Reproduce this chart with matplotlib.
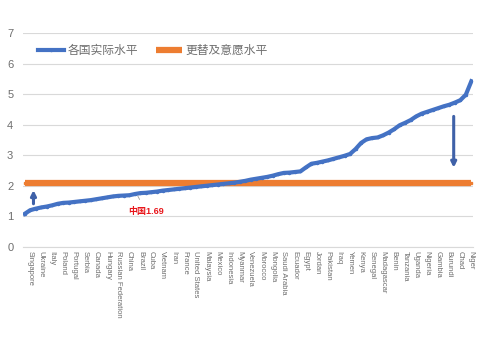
import matplotlib
matplotlib.use("Agg")
import matplotlib.pyplot as plt
import numpy as np

plt.rcParams["font.family"] = ["Liberation Sans", "Noto Sans CJK SC", "DejaVu Sans"]

countries = [
    "Korea, Rep.", "Singapore", "Hong Kong SAR", "Ukraine", "Spain", "Italy",
    "Japan", "Poland", "Greece", "Portugal", "Croatia", "Serbia", "Germany",
    "Canada", "Thailand", "Hungary", "Switzerland", "Russian Federation",
    "Chile", "China", "Netherlands", "Brazil", "Belgium", "Cuba", "Denmark",
    "Vietnam", "United Kingdom", "Iran", "Costa Rica", "France", "Colombia",
    "United States", "Turkey", "Malaysia", "Bangladesh", "Mexico", "Argentina",
    "Indonesia", "Peru", "Myanmar", "India", "Venezuela", "Nepal", "Morocco",
    "South Africa", "Mongolia", "Lao PDR", "Saudi Arabia", "Philippines",
    "Ecuador", "Honduras", "Egypt", "Israel", "Jordan", "Syria", "Pakistan",
    "Papua New Guinea", "Iraq", "Tajikistan", "Yemen", "Ghana", "Kenya",
    "Ethiopia", "Senegal", "Zambia", "Madagascar", "Cameroon", "Benin",
    "Sudan", "Tanzania", "Afghanistan", "Uganda", "Mozambique", "Nigeria",
    "Burkina Faso", "Gambia", "Angola", "Burundi", "Mali", "Chad",
    "Congo, Dem. Rep.", "Niger",
]
actual = [
    1.08, 1.20, 1.25, 1.29, 1.32, 1.36, 1.41, 1.44, 1.45, 1.47, 1.49, 1.51,
    1.53, 1.56, 1.59, 1.62, 1.65, 1.67, 1.68, 1.69, 1.73, 1.76, 1.77, 1.79,
    1.81, 1.84, 1.86, 1.88, 1.90, 1.92, 1.94, 1.96, 1.98, 2.00, 2.02, 2.04,
    2.06, 2.08, 2.10, 2.13, 2.16, 2.20, 2.23, 2.26, 2.29, 2.33, 2.38, 2.42,
    2.43, 2.45, 2.47, 2.60, 2.72, 2.75, 2.79, 2.83, 2.88, 2.93, 2.98, 3.04,
    3.20, 3.40, 3.52, 3.56, 3.58, 3.65, 3.74, 3.85, 3.98, 4.06, 4.15, 4.27,
    4.36, 4.42, 4.48, 4.54, 4.60, 4.65, 4.72, 4.80, 4.98, 5.42,
]
replacement = 2.1
china_label = "中国1.69"
series_names = ["各国实际水平", "更替及意愿水平"]

blue = "#4472C4"
orange = "#ED7D31"
grey = "#6E6E6E"

x = np.arange(len(countries))

fig = plt.figure(figsize=(5, 3.62), dpi=100)
ax = fig.add_axes([0.046, 0.318, 0.9, 0.591])

ax.plot(x, [replacement] * len(x), color=orange, lw=4.5, marker="s",
        markersize=1.5, label=series_names[1], zorder=2, solid_capstyle="butt")
ax.plot(x, actual, color=blue, lw=3, marker="o", markersize=1.5,
        label=series_names[0], zorder=3)

# arrows
arrow_kw = dict(arrowstyle="-|>,head_length=0.3,head_width=0.15", color="#3F61A8", lw=2.2)
ax.annotate("", xy=(1.6, 1.95), xytext=(1.6, 1.32), arrowprops=arrow_kw)
ax.annotate("", xy=(77.8, 2.5), xytext=(77.8, 4.36), arrowprops=arrow_kw)

# China label
ci = countries.index("China")
ax.annotate(china_label, xy=(ci + 1.5, actual[ci] - 0.02), xytext=(ci + 3, 1.15),
            color="#E8161B", fontsize=6.5, fontweight="bold", ha="center", va="center",
            arrowprops=dict(arrowstyle="-", color="#A0A0A0", lw=0.6,
                            shrinkA=4, shrinkB=0))

ax.set_ylim(0, 7)
ax.set_xlim(-0.3, len(x) - 0.7)
ax.set_yticks(range(8))
ax.yaxis.grid(True, color="#D9D9D9", lw=0.8)
ax.set_axisbelow(True)
for s in ["top", "right", "left"]:
    ax.spines[s].set_visible(False)
ax.spines["bottom"].set_color("#D9D9D9")
ax.tick_params(axis="y", length=0, labelsize=8, labelcolor=grey, pad=7)

tick_idx = x[1::2]
ax.set_xticks(tick_idx)
ax.set_xticklabels([countries[i] for i in tick_idx], rotation=-90, fontsize=5.5,
                   color=grey)
ax.tick_params(axis="x", length=0, pad=3)

h, l = ax.get_legend_handles_labels()
ax.legend(h[::-1], l[::-1], loc="upper left", bbox_to_anchor=(0.01, 0.995), ncol=2,
          frameon=False, fontsize=8.5, labelcolor=grey, handlelength=2.2,
          columnspacing=1.5, handletextpad=0.3)

fig.savefig("out.png", dpi=100)
